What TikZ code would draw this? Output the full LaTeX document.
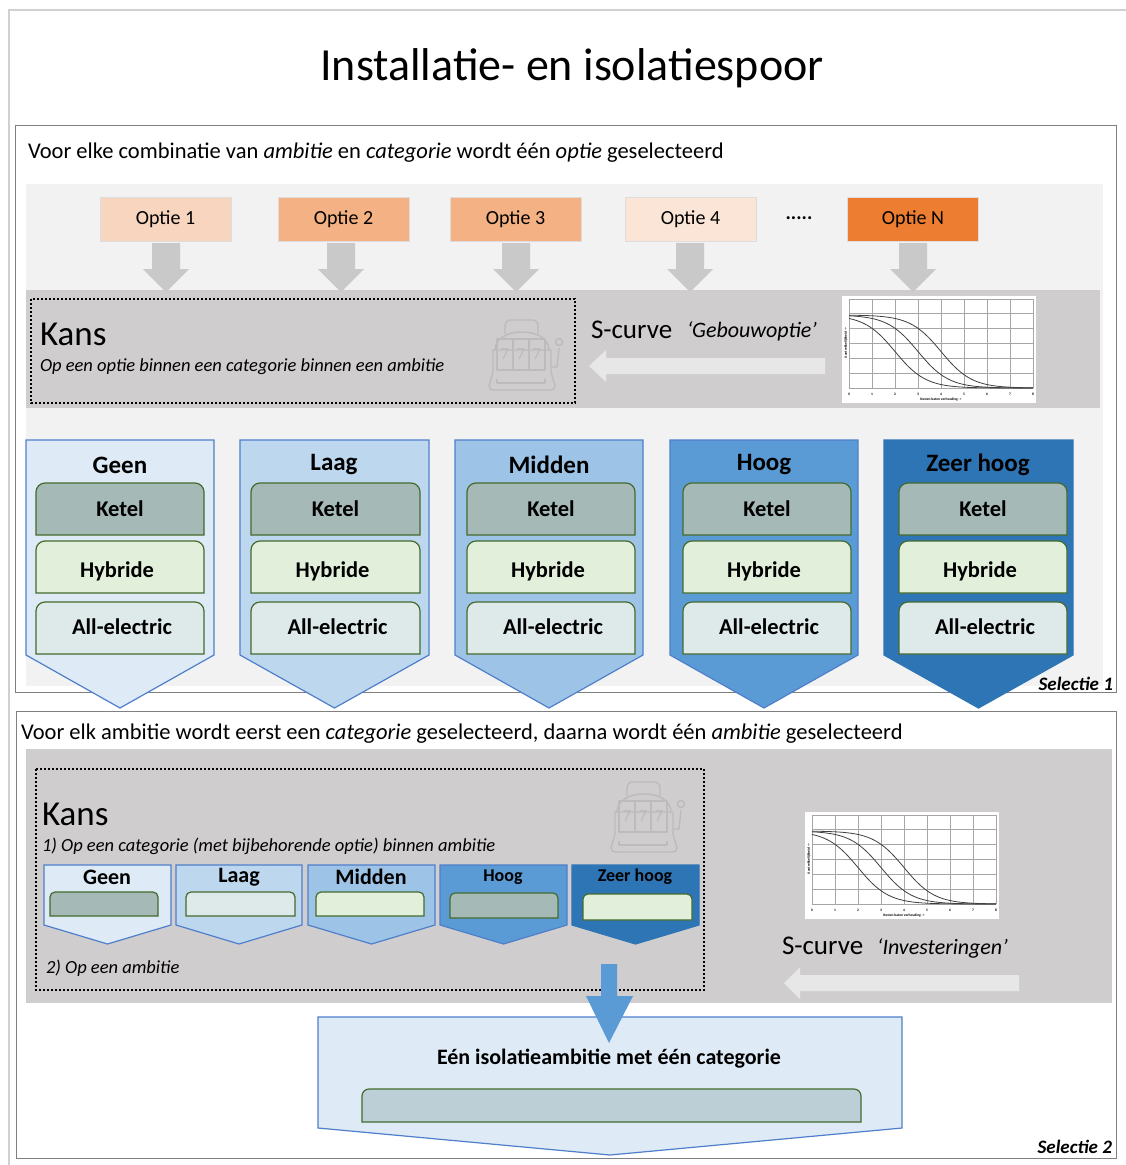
\documentclass[tikz,border=0pt]{standalone}
\usepackage{fontspec}
\setmainfont{Carlito}
\usetikzlibrary{calc}
\definecolor{bandgray}{HTML}{CFCDCE}
\definecolor{lightpanel}{HTML}{F2F2F2}
\definecolor{framegray}{HTML}{7F7F7F}
\definecolor{outergray}{HTML}{D0D0D0}
\definecolor{arrowgray}{HTML}{C9C9C9}
\definecolor{arrowlight}{HTML}{E7E7E7}
\definecolor{slotgray}{HTML}{BDBBBC}
\definecolor{amb1}{HTML}{DEEAF6}
\definecolor{amb2}{HTML}{BDD7EE}
\definecolor{amb3}{HTML}{9DC3E6}
\definecolor{amb4}{HTML}{5B9BD5}
\definecolor{amb5}{HTML}{2E75B6}
\definecolor{ambline}{HTML}{4F7FCB}
\definecolor{ketelc}{HTML}{A5B9B6}
\definecolor{hybc}{HTML}{E2EFDA}
\definecolor{allc}{HTML}{DEE9E9}
\definecolor{resc}{HTML}{BDCFD6}
\definecolor{greenline}{HTML}{446A2E}
\definecolor{opt1}{HTML}{F8D5BF}
\definecolor{opt2}{HTML}{F4B183}
\definecolor{opt4}{HTML}{FBE5D6}
\definecolor{optN}{HTML}{ED7D31}
\definecolor{optline}{HTML}{DDDDDD}
\newcommand{\fs}[1]{\fontsize{#1}{#1}\selectfont}
\tikzset{
  txt/.style={inner sep=0pt,outer sep=0pt,text=black},
  lbl/.style={txt,anchor=base west},
  ctr/.style={txt,anchor=center},
  optbox/.style={draw=optline,line width=1pt,minimum width=131pt,minimum height=44pt,inner sep=0pt,font=\fs{20}},
  dotbox/.style={draw=black,line width=2pt,dash pattern=on 2pt off 2pt},
  framebox/.style={draw=framegray,line width=.8pt,fill=white},
  pent/.style={draw=ambline,line width=1.2pt,line join=miter},
  inbox/.style={draw=greenline,line width=1.2pt}
}
% pentagon: x1 x2 ytop yshoulder ytip fill
\newcommand{\pentagon}[7][ambline]{%
  \draw[pent,draw=#1,fill=#7] (#2,#4) -- (#3,#4) -- (#3,#5) -- ({(#2+#3)/2},#6) -- (#2,#5) -- cycle;}
% box with two rounded top corners
\newcommand{\topround}[6]{%
  \draw[inbox,fill=#5] (#1,#4) [rounded corners=#6pt] -- (#1,#2) -- (#3,#2) [sharp corners] -- (#3,#4) -- cycle;}
\newcommand{\slotmachine}{%
  \begin{scope}[draw=slotgray,line width=1.4pt,line join=round,fill=none]
    \draw (505,334) -- (505,327) .. controls (505,322) and (507,320) .. (511,320) -- (532,320) .. controls (536,320) and (538,322) .. (538,327) -- (538,334);
    \draw (495,350) .. controls (495,340) and (505,332) .. (522,332) .. controls (539,332) and (549,340) .. (549,350);
    \draw (493,350) -- (551,350) -- (551,372) -- (555,386) .. controls (555,389) and (553,390) .. (550,390) -- (495,390) .. controls (491,390) and (489,389) .. (489,386) -- (493,372) -- cycle;
    \draw (497,339) rectangle (545,370);
    \draw (513,339) -- (513,370) (529,339) -- (529,370);
    \draw (497,379) -- (497,383) -- (545,383) -- (545,379);
    \draw (551,367) -- (557,367) -- (559,348);
    \draw (559,342) circle[radius=3.5];
    \node[txt,text=slotgray,font=\fs{17}] at (505,354.5) {7};
    \node[txt,text=slotgray,font=\fs{17}] at (521,354.5) {7};
    \node[txt,text=slotgray,font=\fs{17}] at (537,354.5) {7};
  \end{scope}}
\newcommand{\scurvechart}{%
  \fill[white] (842,296) rectangle (1036,403);
  \foreach \i in {0,...,8} \draw[black!35,line width=.7pt] ({849+\i*23},299) -- ({849+\i*23},388);
  \foreach \j in {0,...,6} \draw[black!35,line width=.7pt] (849,{299+\j*89/6}) -- (1033,{299+\j*89/6});
  \foreach \c in {2,3,4}
    \draw[black!75,line width=.8pt,smooth] plot[domain=0:8,samples=41] ({849+\x*23},{388-73/(1+exp(1.5*(\x-\c)))});
  \foreach \i in {0,...,8} \node[txt,font=\bfseries\fs{3.6}] at ({849+\i*23},394) {\i};
  \node[txt,font=\bfseries\fs{3.6}] at (941,399.5) {Kosten baten verhouding ->};
  \node[txt,font=\bfseries\fs{3.6},rotate=90] at (846,343) {Aantrekkelijkheid ->};
}
\begin{document}
\begin{tikzpicture}[x=1pt,y=-1pt]
\useasboundingbox (0,0) rectangle (1126,1165);
\fill[white] (0,0) rectangle (1126,1165);
% outer
\draw[outergray,line width=2.4pt] (9,1165) -- (9,10) -- (1126,10);
\node[ctr,font=\fs{46}] (title) at (572,68) {Installatie- en isolatiespoor};
% ---- Selectie 1 frame
\draw[framebox] (15,125) rectangle (1116,692);
\fill[lightpanel] (26,184) rectangle (1103,686);
\node[lbl,font=\fs{22.5}] (head1) at (28,158) {Voor elke combinatie van \textit{ambitie} en \textit{categorie} wordt één \textit{optie} geselecteerd};
\fill[bandgray] (26,290) rectangle (1100,408);
% options
\node[optbox,fill=opt1] (o1) at (165.5,219) {Optie 1};
\node[optbox,fill=opt2] (o2) at (343.5,219) {Optie 2};
\node[optbox,fill=opt2] (o3) at (515.5,219) {Optie 3};
\node[optbox,fill=opt4] (o4) at (690.5,219) {Optie 4};
\node[optbox,fill=optN] (oN) at (913,219) {Optie N};
\node[ctr,font=\bfseries\fs{20}] (dots) at (799,218) {.....};
% down arrows
\foreach \xc in {166,341,516,690,913}
  \fill[arrowgray] ({\xc-14},243) -- ({\xc+14},243) -- ({\xc+14},269) -- ({\xc+23},269)
     -- (\xc,292) -- ({\xc-23},269) -- ({\xc-14},269) -- cycle;
% Kans 1
\draw[dotbox] (31,299) rectangle (575,403);
\node[lbl,font=\fs{35}] (kans1) at (40,345) {Kans};
\node[lbl,font=\itshape\fs{18.5}] (kansub1) at (40,371) {Op een optie binnen een categorie binnen een ambitie};
\slotmachine
\node[lbl,font=\fs{27}] (sc1) at (591,338) {S-curve};
\node[lbl,font=\itshape\fs{22}] (sc1b) at (687,337) {‘Gebouwoptie’};
\fill[arrowlight] (825,358) -- (606,358) -- (606,350) -- (589,366) -- (606,382) -- (606,374) -- (825,374) -- cycle;
\scurvechart
% ambition pentagons
\pentagon{26}{214}{440}{655}{708}{amb1}
\pentagon{240}{429}{440}{655}{708}{amb2}
\pentagon{455}{643}{440}{655}{708}{amb3}
\pentagon{670}{858}{440}{655}{708}{amb4}
\pentagon[amb5]{884}{1073}{440}{655}{708}{amb5}
\node[ctr,font=\bfseries\fs{25}] (a1) at (120,465) {Geen};
\node[ctr,font=\bfseries\fs{25}] (a2) at (334,465) {Laag};
\node[ctr,font=\bfseries\fs{25}] (a3) at (549,465) {Midden};
\node[ctr,font=\bfseries\fs{25}] (a4) at (764,465) {Hoog};
\node[ctr,font=\bfseries\fs{25}] (a5) at (978,465) {Zeer hoog};
\foreach \xa/\xb/\d in {36/204/0,251/420/1,467/635/2,683/851/3,899/1067/4}{
  \topround{\xa}{483}{\xb}{535}{ketelc}{9}
  \topround{\xa}{541}{\xb}{593}{hybc}{9}
  \topround{\xa}{602}{\xb}{654}{allc}{9}
  \pgfmathsetmacro{\cx}{(\xa+\xb)/2}
  \node[ctr,font=\bfseries\fs{22.5}] (k\d) at (\cx,509) {Ketel};
  \node[ctr,font=\bfseries\fs{22.5}] (h\d) at (\cx-3,571) {Hybride};
  \node[ctr,font=\bfseries\fs{22.5}] (e\d) at (\cx+2,627) {All-electric};
}
\node[txt,anchor=base east,font=\bfseries\itshape\fs{19}] (sel1) at (1113,690) {Selectie 1};
% ---- Selectie 2 frame
\draw[framebox] (16,711) rectangle (1116,1158);
\node[lbl,font=\fs{22.5}] (head2) at (21,739) {Voor elk ambitie wordt eerst een \textit{categorie} geselecteerd, daarna wordt één \textit{ambitie} geselecteerd};
\fill[bandgray] (26,749) rectangle (1112,1003);
\draw[dotbox] (36,769) rectangle (704,990);
\node[lbl,font=\fs{35}] (kans2) at (42,825) {Kans};
\node[lbl,font=\itshape\fs{18.5}] (kansub2) at (42,851) {1) Op een categorie (met bijbehorende optie) binnen ambitie};
\begin{scope}[shift={(122,462)}]\slotmachine\end{scope}
\pentagon{44}{171}{865}{925}{944}{amb1}
\pentagon{176}{302}{865}{925}{944}{amb2}
\pentagon{308}{435}{865}{925}{944}{amb3}
\pentagon{440}{567}{865}{925}{944}{amb4}
\pentagon[amb5]{572}{699}{865}{925}{944}{amb5}
\node[ctr,font=\bfseries\fs{22}] (b1) at (107,877) {Geen};
\node[ctr,font=\bfseries\fs{22}] (b2) at (239,877) {Laag};
\node[ctr,font=\bfseries\fs{22}] (b3) at (371,877) {Midden};
\node[ctr,font=\bfseries\fs{18}] (b4) at (503,877) {Hoog};
\node[ctr,font=\bfseries\fs{18}] (b5) at (635,877) {Zeer hoog};
\topround{50}{892}{158}{916}{ketelc}{5}
\topround{186}{892}{295}{916}{allc}{5}
\topround{316}{892}{424}{916}{hybc}{5}
\topround{450}{893}{558}{918}{ketelc}{5}
\topround{583}{894}{692}{920}{hybc}{5}
\node[lbl,font=\itshape\fs{18.5}] (amb2t) at (46,973) {2) Op een ambitie};
\begin{scope}[shift={(-37,516)}]\scurvechart\end{scope}
\node[lbl,font=\fs{27}] (sc2) at (782,954) {S-curve};
\node[lbl,font=\itshape\fs{22}] (sc2b) at (877,954) {‘Investeringen’};
\fill[arrowlight] (1019,975) -- (800,975) -- (800,967) -- (784,983) -- (800,999) -- (800,991) -- (1019,991) -- cycle;
% result
\pentagon{318}{902}{1017}{1128}{1155}{amb1}
\node[ctr,font=\bfseries\fs{22}] (res) at (609,1059) {Eén isolatieambitie met één categorie};
\topround{362}{1089}{861}{1122}{resc}{7}
\fill[amb4] (601,964) -- (617,964) -- (617,996) -- (633,996) -- (609,1043) -- (586,996) -- (601,996) -- cycle;
\node[txt,anchor=base east,font=\bfseries\itshape\fs{19}] (sel2) at (1112,1153) {Selectie 2};
\end{tikzpicture}
\end{document}
